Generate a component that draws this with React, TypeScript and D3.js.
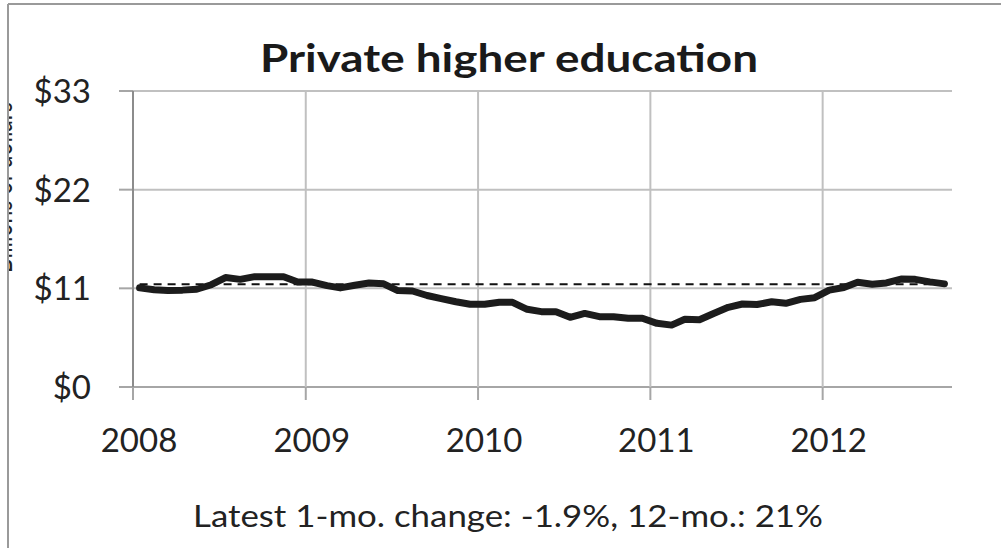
import React from "react";
import * as d3 from "d3";

// Monthly spending, Jan 2008 – Sep 2012 (billions of dollars)
const startMonth = new Date(2008, 0, 1);
const spending = [
  11.05, 10.85, 10.75, 10.8, 10.9, 11.4, 12.2, 12.0, 12.3, 12.3, 12.3, 11.7,
  11.7, 11.3, 11.05, 11.35, 11.6, 11.5, 10.75, 10.7, 10.2, 9.85, 9.5, 9.22,
  9.22, 9.44, 9.44, 8.66, 8.4, 8.4, 7.77, 8.2, 7.84, 7.84, 7.66, 7.66,
  7.1, 6.9, 7.55, 7.5, 8.2, 8.88, 9.25, 9.2, 9.5, 9.33, 9.77, 9.96,
  10.8, 11.1, 11.67, 11.45, 11.6, 12.04, 12.0, 11.72, 11.5,
];
const averageLevel = [11.45];
const yTicks = [0, 11, 22, 33];
const xTickYears = [2008, 2009, 2010, 2011, 2012];
const title = "Private higher education";
const footer = "Latest 1-mo. change: -1.9%, 12-mo.: 21%";
const yTitle = "Billions of dollars";

const W = 1001;
const H = 548;
const FONT = "Lato, 'Open Sans', sans-serif";

export default function App() {
  const x = d3
    .scaleTime()
    .domain([new Date(2008, 0, 1), new Date(2012, 9, 1)])
    .range([133, 952]);
  const y = d3.scaleLinear().domain([0, 33]).range([387, 91]);

  const points = spending.map((v, i) => ({
    date: d3.timeDay.offset(d3.timeMonth.offset(startMonth, i), 14),
    value: v,
  }));

  const line = d3
    .line<{ date: Date; value: number }>()
    .x((d) => x(d.date))
    .y((d) => y(d.value));

  const first = points[0].date;
  const last = points[points.length - 1].date;
  const [x0, x1] = x.range();

  return (
    <svg
      width={W}
      height={H}
      style={{ position: "absolute", left: 0, top: 0, background: "#fff" }}
      fontFamily={FONT}
    >
      <defs>
        <clipPath id="frame">
          <rect x={9} y={5} width={W} height={H} />
        </clipPath>
      </defs>

      {/* outer frame */}
      <line x1={8} x2={W} y1={4} y2={4} stroke="#9a9a9a" strokeWidth={2} />
      <line x1={8} x2={8} y1={4} y2={H} stroke="#9a9a9a" strokeWidth={2} />

      <g clipPath="url(#frame)">
        {/* axis title, mostly outside the frame */}
        <text
          transform={`translate(12, ${(102 + 273) / 2}) rotate(-90)`}
          textAnchor="middle"
          fontSize={30}
          fill="#222"
          textLength={171}
          lengthAdjust="spacingAndGlyphs"
        >
          {yTitle}
        </text>

        {/* horizontal gridlines and y ticks */}
        {yTicks.map((t) => (
          <g key={t}>
            <line
              x1={x0}
              x2={x1}
              y1={y(t)}
              y2={y(t)}
              stroke={t === 0 ? "#a6a6a6" : "#c0c0c0"}
              strokeWidth={2}
            />
            <line x1={x0 - 14} x2={x0} y1={y(t)} y2={y(t)} stroke="#a6a6a6" strokeWidth={2} />
            <text
              x={91}
              y={y(t)}
              dy="0.36em"
              textAnchor="end"
              fontSize={33}
              fill="#222"
            >
              {`$${t}`}
            </text>
          </g>
        ))}

        {/* vertical gridlines and x ticks */}
        {xTickYears.map((yr) => {
          const xp = x(new Date(yr, 0, 1));
          return (
            <g key={yr}>
              {yr !== 2008 && (
                <line x1={xp} x2={xp} y1={y(33)} y2={y(0)} stroke="#c0c0c0" strokeWidth={2} />
              )}
              <line x1={xp} x2={xp} y1={y(0)} y2={y(0) + 13} stroke="#a6a6a6" strokeWidth={2} />
              <text x={xp + 6} y={452} textAnchor="middle" fontSize={33} fill="#222">
                {yr}
              </text>
            </g>
          );
        })}

        {/* y axis */}
        <line x1={x0} x2={x0} y1={y(33)} y2={y(0)} stroke="#8c8c8c" strokeWidth={2} />

        {/* average level */}
        <line
          x1={x(first)}
          x2={x(last)}
          y1={y(averageLevel[0])}
          y2={y(averageLevel[0])}
          stroke="#111"
          strokeWidth={2}
          strokeDasharray="8 6"
        />

        {/* spending series */}
        <path
          d={line(points) || ""}
          fill="none"
          stroke="#1c1c1c"
          strokeWidth={7}
          strokeLinejoin="round"
          strokeLinecap="round"
        />

        <text
          x={260}
          y={72}
          fontSize={39}
          fontWeight="bold"
          fill="#1a1a1a"
          textLength={498}
          lengthAdjust="spacingAndGlyphs"
        >
          {title}
        </text>

        <text
          x={193}
          y={527}
          fontSize={30}
          fill="#222"
          textLength={630}
          lengthAdjust="spacingAndGlyphs"
        >
          {footer}
        </text>
      </g>
    </svg>
  );
}
